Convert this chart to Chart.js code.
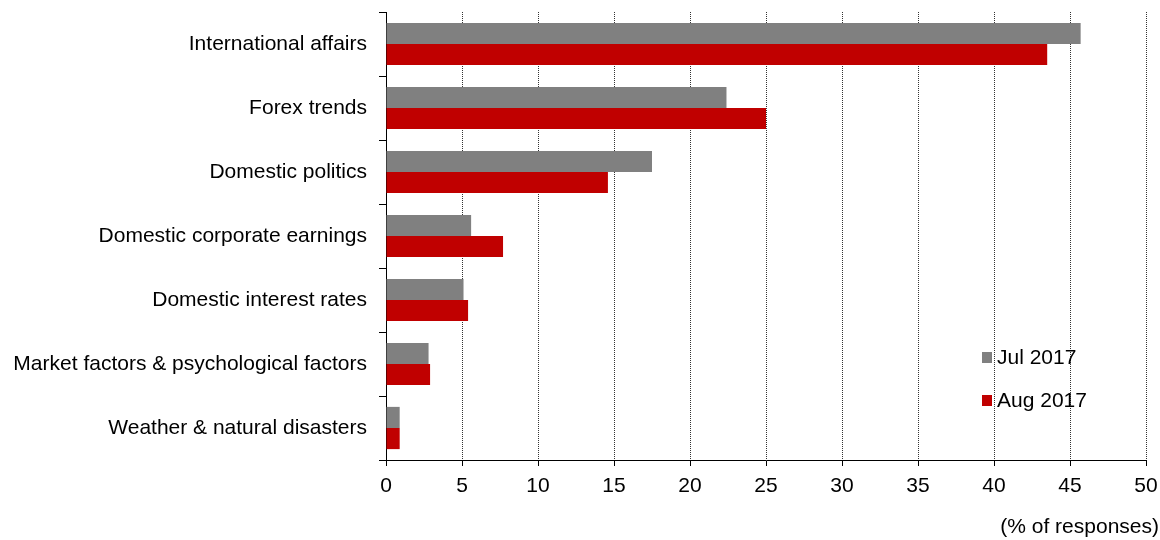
<!DOCTYPE html>
<html>
<head>
<meta charset="utf-8">
<script src="https://cdn.jsdelivr.net/npm/chart.js@4"></script>
<style>
  html, body { margin: 0; padding: 0; background: #fff; }
  #wrap { width: 1160px; height: 540px; }
</style>
</head>
<body>
<div id="wrap"><canvas id="c" width="1160" height="540"></canvas></div>
<script>
const categories = [
  "International affairs",
  "Forex trends",
  "Domestic politics",
  "Domestic corporate earnings",
  "Domestic interest rates",
  "Market factors & psychological factors",
  "Weather & natural disasters"
];
const jul2017 = [45.7, 22.4, 17.5, 5.6, 5.1, 2.8, 0.9];
const aug2017 = [43.5, 25.0, 14.6, 7.7, 5.4, 2.9, 0.9];
const seriesLabels = ["Jul 2017", "Aug 2017"];
const xMin = 0, xMax = 50, xStep = 5;
const axisNote = "(% of responses)";

const FONT = "'Liberation Sans', Arial, sans-serif";
const FS = 21;

const extras = {
  id: 'extras',
  afterDraw(chart) {
    const ctx = chart.ctx;
    ctx.save();
    ctx.font = FS + "px " + FONT;
    ctx.textBaseline = 'middle';
    const items = chart.data.datasets;
    const lx = 982, ly0 = 357, dy = 43;
    items.forEach((ds, i) => {
      const y = ly0 + i * dy;
      ctx.fillStyle = ds.backgroundColor;
      ctx.fillRect(lx, y - 5, 10, 11);
      ctx.fillStyle = '#000';
      ctx.textAlign = 'left';
      ctx.fillText(ds.label, lx + 15, y + 1);
    });
    ctx.textAlign = 'right';
    ctx.fillText(axisNote, 1159, 527);
    ctx.restore();
  }
};

new Chart(document.getElementById('c'), {
  type: 'bar',
  data: {
    labels: categories,
    datasets: [
      { label: seriesLabels[0], data: jul2017, backgroundColor: '#808080', borderWidth: 0 },
      { label: seriesLabels[1], data: aug2017, backgroundColor: '#C00000', borderWidth: 0 }
    ]
  },
  options: {
    indexAxis: 'y',
    responsive: false,
    animation: false,
    devicePixelRatio: 1,
    categoryPercentage: 0.66,
    barPercentage: 1.0,
    layout: { padding: { top: 12, right: 14, left: 0, bottom: 0 } },
    plugins: {
      legend: { display: false },
      tooltip: { enabled: false }
    },
    scales: {
      x: {
        min: xMin, max: xMax,
        ticks: {
          stepSize: xStep,
          color: '#000',
          font: { family: FONT, size: FS },
          padding: 8,
          maxRotation: 0
        },
        grid: {
          color: (c) => c.tick && c.tick.value === 0 ? 'rgba(0,0,0,0)' : '#333',
          lineWidth: 1,
          drawTicks: true,
          tickLength: 6,
          tickColor: '#000',
          tickBorderDash: [0, 0]
        },
        border: { display: true, color: '#000', width: 1, dash: [1, 1] },
        afterFit(scale) {
          scale.height = 80;
          scale.paddingLeft = 0;
          scale.paddingRight = 0;
        }
      },
      y: {
        offset: true,
        ticks: {
          color: '#000',
          font: { family: FONT, size: FS },
          padding: 12
        },
        grid: {
          offset: true,
          drawOnChartArea: false,
          drawTicks: true,
          tickLength: 7,
          tickColor: '#000'
        },
        border: { display: true, color: '#000', width: 1 },
        afterFit(scale) {
          scale.width = 386;
          scale.paddingTop = 0;
          scale.paddingBottom = 0;
        }
      }
    }
  },
  plugins: [extras]
});
</script>
</body>
</html>
